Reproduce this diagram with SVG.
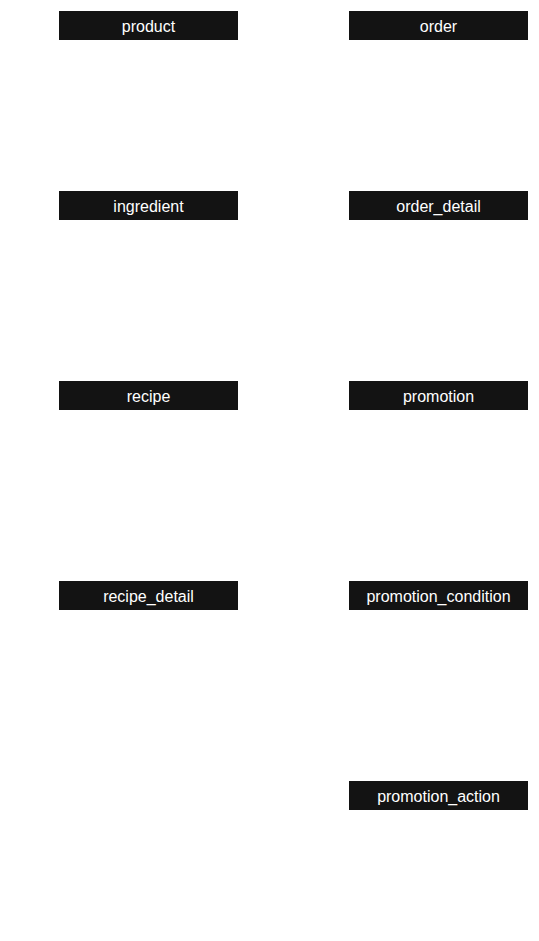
<svg xmlns="http://www.w3.org/2000/svg" width="539" height="941" viewBox="0 0 539 941">
<style>
.box{fill:#131313}
.lbl{fill:#ffffff;font-family:"Liberation Sans",Arial,sans-serif;font-size:16px;text-anchor:middle}
</style>
<rect width="539" height="941" fill="#ffffff"/>
<g id="connectors"></g>
<g id="product"><rect class="box" x="59" y="11" width="179" height="29"/><text class="lbl" x="148.5" y="31.5">product</text></g>
<g id="order"><rect class="box" x="349" y="11" width="179" height="29"/><text class="lbl" x="438.5" y="31.5">order</text></g>
<g id="ingredient"><rect class="box" x="59" y="191" width="179" height="29"/><text class="lbl" x="148.5" y="211.5">ingredient</text></g>
<g id="order_detail"><rect class="box" x="349" y="191" width="179" height="29"/><text class="lbl" x="438.5" y="211.5">order_detail</text></g>
<g id="recipe"><rect class="box" x="59" y="381" width="179" height="29"/><text class="lbl" x="148.5" y="401.5">recipe</text></g>
<g id="promotion"><rect class="box" x="349" y="381" width="179" height="29"/><text class="lbl" x="438.5" y="401.5">promotion</text></g>
<g id="recipe_detail"><rect class="box" x="59" y="581" width="179" height="29"/><text class="lbl" x="148.5" y="601.5">recipe_detail</text></g>
<g id="promotion_condition"><rect class="box" x="349" y="581" width="179" height="29"/><text class="lbl" x="438.5" y="601.5">promotion_condition</text></g>
<g id="promotion_action"><rect class="box" x="349" y="781" width="179" height="29"/><text class="lbl" x="438.5" y="801.5">promotion_action</text></g>
</svg>
